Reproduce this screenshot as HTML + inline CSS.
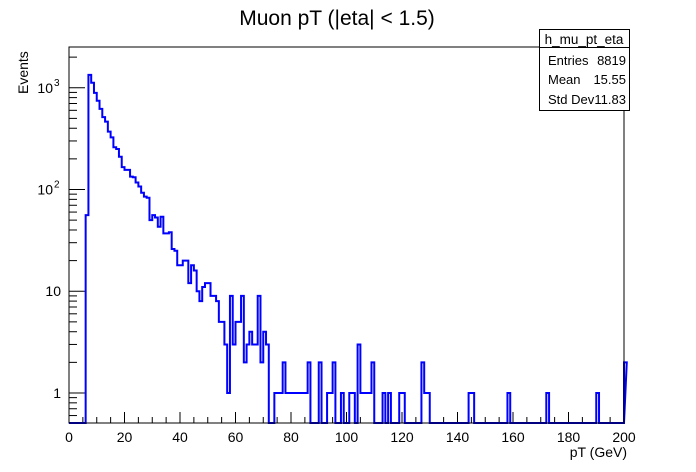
<!DOCTYPE html>
<html><head><meta charset="utf-8"><style>
html,body{margin:0;padding:0;background:#fff;}
svg{display:block;font-family:"Liberation Sans",Arial,sans-serif;}
</style></head><body>
<svg id="chart" width="696" height="472" viewBox="0 0 696 472">
<rect x="0" y="0" width="696" height="472" fill="#fff"/>
<text x="337" y="25" font-size="21" text-anchor="middle" fill="#000">Muon pT (|eta| &lt; 1.5)</text>
<g id="axes"></g>
<path id="hist" fill="none" stroke="#0000ff" stroke-width="2"/>
<rect x="69" y="47" width="555" height="376" fill="none" stroke="#000" stroke-width="1"/>
<text x="627" y="457" font-size="14" text-anchor="end">pT (GeV)</text>
<text transform="translate(28,94) rotate(-90)" font-size="14">Events</text>
<g>
<rect x="539.5" y="29.5" width="90" height="81" fill="#fff" stroke="#000"/>
<line x1="539.5" y1="47.5" x2="629.5" y2="47.5" stroke="#000"/>
<text x="584" y="44" font-size="13.5" text-anchor="middle">h_mu_pt_eta</text>
<text x="548" y="65" font-size="13">Entries</text>
<text x="626" y="65" font-size="13" text-anchor="end">8819</text>
<text x="548" y="84" font-size="13">Mean</text>
<text x="626" y="84" font-size="13" text-anchor="end">15.55</text>
<text x="548" y="104" font-size="13">Std Dev</text>
<text x="626" y="104" font-size="13" text-anchor="end">11.83</text>
</g>
</svg>
<script>
const xTicks = [0,20,40,60,80,100,120,140,160,180,200];
const yTicks = [1,10,100,1000];
const yTickLabels = ["1","10","10","10"];
const yTickExps = ["","","2","3"];
const counts = [0,0,0,0,0,0,56,
1340,1120,890,745,620,515,465,370,325,260,250,210,166,156,156,134,132,117,107,93,85,83,50,56,53,43,54,37,37,38,26,
25,18,18,20,20,12,18,16,10,8,11,12,12,9,9,8,5,5,3,1,9,3,5,5,9,2,3,4,3,3,9,2,4,3,0,0,
1,1,1,2,1,1,1,1,1,1,1,1,2,0,0,0,2,0,0,1,1,2,0,0,1,0,0,1,1,0,3,1,1,1,1,2,0,0,0,1,0,1,0,0,0,1,1,
0,0,0,0,0,0,2,1,1,
0,0,0,0,0,0,0,0,0,0,0,0,0,0,1,1,0,0,0,0,0,0,0,0,0,0,0,0,1,0,0,0,0,0,0,0,0,0,0,0,0,0,1,
0,0,0,0,0,0,0,0,0,0,0,0,0,0,0,0,0,1,0,0,0,0,0,0,0,0,0,2];
const xMin = 0, xMax = 200, binWidth = 1;
const L=69,R=624,T=47,B=423;
const yLogMin = Math.log10(0.507), yLogMax = Math.log10(2515);
function xs(v){return L+(v-xMin)/(xMax-xMin)*(R-L);}
function ys(v){ if(v<=0) return B; let y=B-(Math.log10(v)-yLogMin)/(yLogMax-yLogMin)*(B-T); return Math.max(T,Math.min(B,y)); }
const NS="http://www.w3.org/2000/svg";
const axes=document.getElementById('axes');
function mk(tag,attrs){const e=document.createElementNS(NS,tag);for(const k in attrs)e.setAttribute(k,attrs[k]);axes.appendChild(e);return e;}
for(let v=xMin; v<=xMax; v+=5){
  const major = v%20===0;
  const t=mk('line',{x1:xs(v),x2:xs(v),y1:B,y2:B-(major?11:6),stroke:'#000'});
  
  
}
xTicks.forEach(v=>{
  const t=mk('text',{x:xs(v),y:B+19,'font-size':14,'text-anchor':'middle'});
  t.textContent=String(v);
  
  
});
for(let d=-1; d<=3; d++){
  for(let m=1;m<=9;m++){
    const v=m*Math.pow(10,d);
    const y=ys(v);
    if(v<0.507||v>2515) continue;
    const t=mk('line',{x1:L,x2:L+(m===1?16:8),y1:y,y2:y,stroke:'#000'});
    
    
  }
}
yTicks.forEach((v,i)=>{
  const y=ys(v);
  const t=mk('text',{x:L-8,y:y+5,'font-size':14,'text-anchor':'end'});
  if(yTickExps[i]){
    t.setAttribute('x',L-16);
    t.textContent=yTickLabels[i];
    const s=mk('text',{x:L-15,y:y-2,'font-size':10});
    s.textContent=yTickExps[i];
    
    
  } else t.textContent=yTickLabels[i];
  
  
});
let d=`M${xs(xMin)},${B}`;
counts.forEach((c,i)=>{
  const x0=xs(xMin+i*binWidth), x1=xs(xMin+(i+1)*binWidth), y=ys(c);
  d+=` L${x0},${y} L${x1},${y}`;
});
d+=` L${xs(xMax)},${B}`;
document.getElementById('hist').setAttribute('d',d);
</script>
</body></html>
